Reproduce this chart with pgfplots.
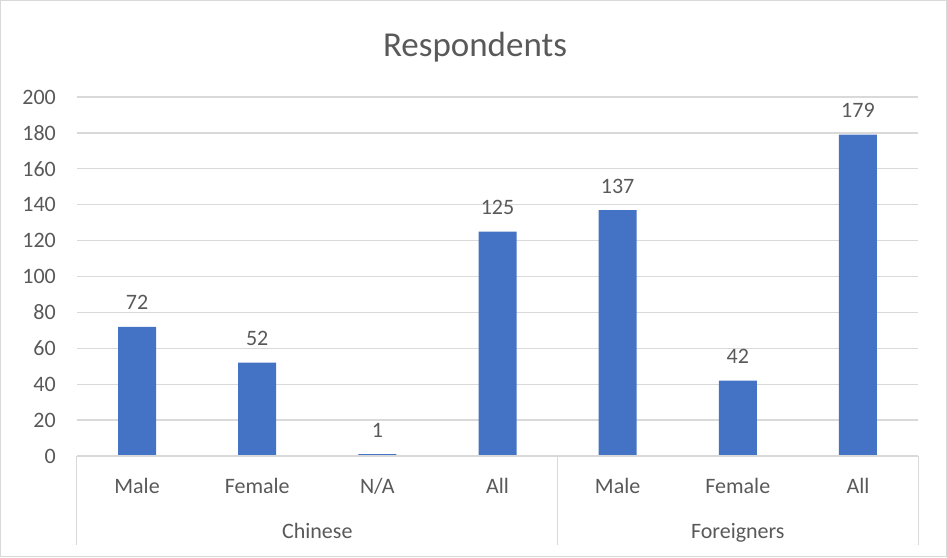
\documentclass[border=0pt]{standalone}
\usepackage{pgfplots}
\pgfplotsset{compat=1.18}
\usepackage{fontspec}
\setmainfont{Carlito}
\definecolor{barblue}{HTML}{4472C4}
\definecolor{txtgray}{HTML}{595959}
\definecolor{gridgray}{HTML}{D9D9D9}
\newcommand{\lblfont}{\fontsize{22}{26}\selectfont}
\begin{document}
\begin{tikzpicture}
\useasboundingbox (-77pt,-101pt) rectangle (870pt,456pt);
\draw[gridgray, line width=1pt] (-76.5pt,-100.5pt) rectangle (869.5pt,455.5pt);
\begin{axis}[
  at={(0,0)}, anchor=south west,
  scale only axis, width=841pt, height=359pt,
  xmin=-0.5, xmax=6.5, ymin=0, ymax=200,
  ybar, bar width=38pt,
  ytick={0,20,...,200},
  xtick={0,...,6},
  xticklabels={Male,Female,N/A,All,Male,Female,All},
  axis line style={draw=none},
  major tick length=0pt,
  ymajorgrids, grid style={gridgray, line width=1.3pt},
  xticklabel style={anchor=base, inner sep=0pt, yshift=-37pt, text=txtgray, font=\lblfont},
  yticklabel style={anchor=east, inner sep=0pt, xshift=-21pt, text=txtgray, font=\lblfont},
  /pgf/number format/assume math mode=true,
  clip=false,
  nodes near coords,
  every node near coord/.append style={anchor=base, yshift=17pt, text=txtgray, font=\lblfont},
]
\addplot[fill=barblue, draw=none] coordinates {(0,72) (1,52) (2,1) (3,125) (4,137) (5,42) (6,179)};
% category axis line and group separators
\draw[gridgray, line width=1.3pt] (axis cs:-0.5,0) -- (axis cs:6.5,0);
\draw[gridgray, line width=1pt] (axis cs:-0.5,0) -- ([yshift=-89pt]axis cs:-0.5,0);
\draw[gridgray, line width=1pt] (axis cs:3.5,0) -- ([yshift=-89pt]axis cs:3.5,0);
\draw[gridgray, line width=1pt] (axis cs:6.5,0) -- ([yshift=-89pt]axis cs:6.5,0);
\node[anchor=base, text=txtgray, font=\lblfont, inner sep=0pt] at (axis cs:1.5,0) [yshift=-82pt] {Chinese};
\node[anchor=base, text=txtgray, font=\lblfont, inner sep=0pt] at (axis cs:5,0) [yshift=-82pt] {Foreigners};
\end{axis}
\node[anchor=base, text=txtgray, inner sep=0pt, font=\fontsize{35}{40}\selectfont] at (398pt,399pt) {Respondents};
\end{tikzpicture}
\end{document}
